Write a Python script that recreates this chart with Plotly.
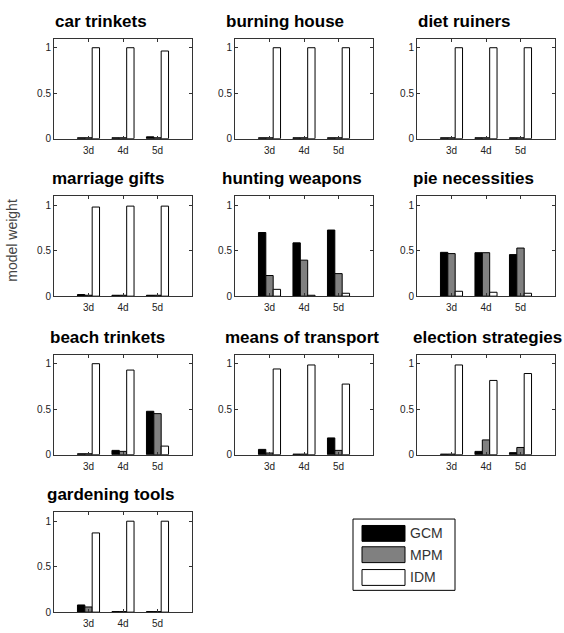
import plotly.graph_objects as go

# ---------------- data ----------------
categories = ["3d", "4d", "5d"]
panel_titles = ["car trinkets", "burning house", "diet ruiners",
                "marriage gifts", "hunting weapons", "pie necessities",
                "beach trinkets", "means of transport", "election strategies",
                "gardening tools"]
series_names = ["GCM", "MPM", "IDM"]
series_colors = ["#000000", "#808080", "#ffffff"]

gcm = [
    [0.01, 0.01, 0.02],
    [0.01, 0.01, 0.01],
    [0.01, 0.01, 0.01],
    [0.018, 0.01, 0.01],
    [0.70, 0.586, 0.727],
    [0.482, 0.478, 0.457],
    [0.01, 0.047, 0.477],
    [0.058, 0.006, 0.184],
    [0.006, 0.036, 0.022],
    [0.079, 0.006, 0.006],
]
mpm = [
    [0.01, 0.01, 0.01],
    [0.01, 0.01, 0.01],
    [0.01, 0.01, 0.01],
    [0.01, 0.01, 0.01],
    [0.227, 0.396, 0.248],
    [0.468, 0.478, 0.529],
    [0.01, 0.036, 0.451],
    [0.018, 0.006, 0.047],
    [0.006, 0.162, 0.079],
    [0.057, 0.006, 0.006],
]
idm = [
    [1.0, 1.0, 0.964],
    [1.0, 1.0, 1.0],
    [1.0, 1.0, 1.0],
    [0.98, 0.99, 0.99],
    [0.075, 0.01, 0.032],
    [0.054, 0.043, 0.032],
    [1.0, 0.93, 0.094],
    [0.942, 0.986, 0.776],
    [0.986, 0.816, 0.892],
    [0.871, 1.0, 1.0],
]
y_tick_vals = [0, 0.5, 1]
y_tick_text = ["0", "0.5", "1"]

# ---------------- layout geometry (pixels) ----------------
W, H = 564, 633
col_left = [54, 235, 417]
row_top = [39, 198, 358, 517]
ax_w, ax_h = 138, 101

def px_x(x):
    return x / W

def px_y(y):
    return 1 - y / H

fig = go.Figure()
all_series = [gcm, mpm, idm]
annotations = []

for i, title in enumerate(panel_titles):
    r, c = divmod(i, 3)
    k = i + 1
    xa = "x" if k == 1 else f"x{k}"
    ya = "y" if k == 1 else f"y{k}"
    for s, name in enumerate(series_names):
        fig.add_trace(go.Bar(
            x=[1, 2, 3], y=all_series[s][i], name=name,
            marker=dict(color=series_colors[s], line=dict(color="#000000", width=1)),
            xaxis=xa, yaxis=ya, showlegend=False, offsetgroup=str(s),
        ))
    x0, x1 = px_x(col_left[c]), px_x(col_left[c] + ax_w)
    y1, y0 = px_y(row_top[r]), px_y(row_top[r] + ax_h)
    xkey = "xaxis" if k == 1 else f"xaxis{k}"
    ykey = "yaxis" if k == 1 else f"yaxis{k}"
    fig.layout[xkey] = dict(
        domain=[x0, x1], anchor=ya, range=[0, 4],
        tickmode="array", tickvals=[1, 2, 3], ticktext=categories,
        ticks="inside", ticklen=3, tickcolor="#333333",
        showline=True, linecolor="#333333", linewidth=1, mirror="ticks",
        showgrid=False, zeroline=False, ticklabelstandoff=2,
        tickfont=dict(family="Liberation Sans, Arial", size=10, color="#222222"),
        fixedrange=True,
    )
    fig.layout[ykey] = dict(
        domain=[y0, y1], anchor=xa, range=[0, 1.1],
        tickmode="array", tickvals=y_tick_vals, ticktext=y_tick_text,
        ticks="inside", ticklen=3, tickcolor="#333333",
        showline=True, linecolor="#333333", linewidth=1, mirror="ticks",
        showgrid=False, zeroline=False,
        tickfont=dict(family="Liberation Sans, Arial", size=10, color="#222222"),
        fixedrange=True,
    )
    annotations.append(dict(
        text=f"<b>{title}</b>", xref="paper", yref="paper",
        x=(x0 + x1) / 2, y=y1, xanchor="center", yanchor="bottom",
        xshift=3.3 * len(title) - 61.6, yshift=6, showarrow=False,
        font=dict(family="Liberation Sans, Arial", size=17, color="#000000"),
    ))

# y-axis label
annotations.append(dict(
    text="model weight", xref="paper", yref="paper",
    x=px_x(12), y=px_y(243), xanchor="center", yanchor="middle",
    textangle=-90, showarrow=False,
    font=dict(family="Liberation Sans, Arial", size=14, color="#444444"),
))

# custom legend box
shapes = [dict(type="rect", xref="paper", yref="paper",
               x0=px_x(353), x1=px_x(455), y0=px_y(596), y1=px_y(524),
               line=dict(color="#000000", width=1), fillcolor="#ffffff")]
legend_rows = [538.5, 560, 583]
for s, name in enumerate(series_names):
    yc = legend_rows[s]
    shapes.append(dict(type="rect", xref="paper", yref="paper",
                       x0=px_x(362), x1=px_x(405), y0=px_y(yc + 8), y1=px_y(yc - 8),
                       line=dict(color="#000000", width=1), fillcolor=series_colors[s]))
    annotations.append(dict(
        text=name, xref="paper", yref="paper", x=px_x(408), y=px_y(yc),
        xanchor="left", yanchor="middle", showarrow=False,
        font=dict(family="Liberation Sans, Arial", size=14, color="#333333"),
    ))

fig.update_layout(
    width=W, height=H, margin=dict(l=0, r=0, t=0, b=0),
    paper_bgcolor="#ffffff", plot_bgcolor="#ffffff",
    barmode="group", bargap=0.36, bargroupgap=0,
    annotations=annotations, shapes=shapes, showlegend=False,
    hovermode=False,
)

fig.write_html(
    "out.html",
    config={"displayModeBar": False, "staticPlot": True},
    post_script="document.body.style.margin='0';document.body.style.overflow='hidden';",
)
